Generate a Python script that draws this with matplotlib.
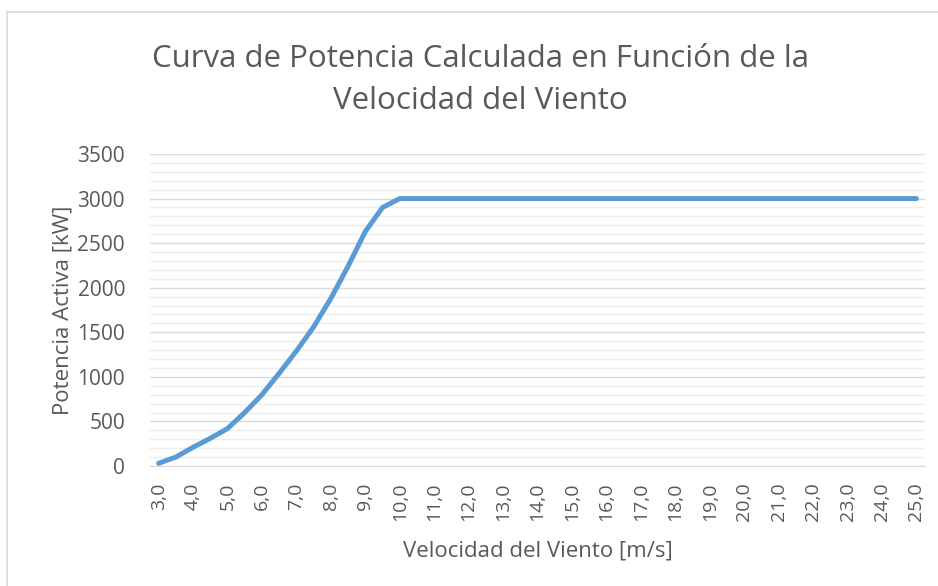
import matplotlib.pyplot as plt
from matplotlib.patches import Rectangle
from matplotlib.ticker import MultipleLocator, FuncFormatter

# wind speed categories [m/s] and calculated active power [kW]
wind_speed = [3.0, 3.5, 4.0, 4.5, 5.0, 5.5, 6.0, 6.5, 7.0, 7.5, 8.0, 8.5, 9.0, 9.5,
              10.0, 10.5, 11.0, 11.5, 12.0, 12.5, 13.0, 13.5, 14.0, 14.5, 15.0,
              15.5, 16.0, 16.5, 17.0, 17.5, 18.0, 18.5, 19.0, 19.5, 20.0, 20.5,
              21.0, 21.5, 22.0, 22.5, 23.0, 23.5, 24.0, 24.5, 25.0]
power_kw = [30, 100, 210, 310, 420, 600, 800, 1040, 1290, 1560, 1880, 2240, 2630, 2900,
            3000, 3000, 3000, 3000, 3000, 3000, 3000, 3000, 3000, 3000, 3000,
            3000, 3000, 3000, 3000, 3000, 3000, 3000, 3000, 3000, 3000, 3000,
            3000, 3000, 3000, 3000, 3000, 3000, 3000, 3000, 3000]
x_ticks = [3, 4, 5, 6, 7, 8, 9, 10, 11, 12, 13, 14, 15, 16, 17, 18, 19, 20, 21, 22, 23, 24, 25]

TEXT = "#595959"
plt.rcParams['font.family'] = ['Open Sans', 'DejaVu Sans']

fig = plt.figure(figsize=(9.38, 5.86), dpi=100)
# chart area border (cut off on right and bottom like the screenshot)
fig.patches.append(Rectangle((7 / 938, -0.1), 1.2, (586 - 12) / 586 + 0.1,
                             transform=fig.transFigure, fill=False,
                             edgecolor="#d9d9d9", linewidth=1.2))

ax = fig.add_axes([150 / 938, 120 / 586, 775 / 938, 312 / 586])
ax.plot(wind_speed, power_kw, color="#5b9bd5", linewidth=3.6, solid_joinstyle="round",
        solid_capstyle="round", zorder=3)

ax.set_xlim(2.75, 25.25)
ax.set_ylim(0, 3500)
ax.yaxis.set_major_locator(MultipleLocator(500))
ax.yaxis.set_minor_locator(MultipleLocator(100))
ax.grid(which="major", axis="y", color="#d9d9d9", linewidth=1.0)
ax.grid(which="minor", axis="y", color="#eeeeee", linewidth=1.0)
ax.set_axisbelow(True)

ax.set_xticks(x_ticks)
ax.xaxis.set_major_formatter(FuncFormatter(lambda v, p: f"{v:.1f}".replace(".", ",")))
ax.tick_params(axis="x", labelrotation=90, length=0, pad=12, labelsize=14, labelcolor=TEXT)
ax.tick_params(axis="y", which="both", length=0, pad=18, labelsize=15, labelcolor=TEXT)

for s in ["top", "right", "left"]:
    ax.spines[s].set_visible(False)
ax.spines["bottom"].set_color("#d9d9d9")

ax.set_ylabel("Potencia Activa [kW]", fontsize=16, color=TEXT, labelpad=3)
ax.set_xlabel("Velocidad del Viento [m/s]", fontsize=16, color=TEXT, labelpad=14)
fig.text(480 / 938, 1 - 80 / 586, "Curva de Potencia Calculada en Función de la\nVelocidad del Viento",
         ha="center", va="center", fontsize=22.5, color=TEXT, linespacing=1.55)

fig.savefig("out.png", dpi=100)
